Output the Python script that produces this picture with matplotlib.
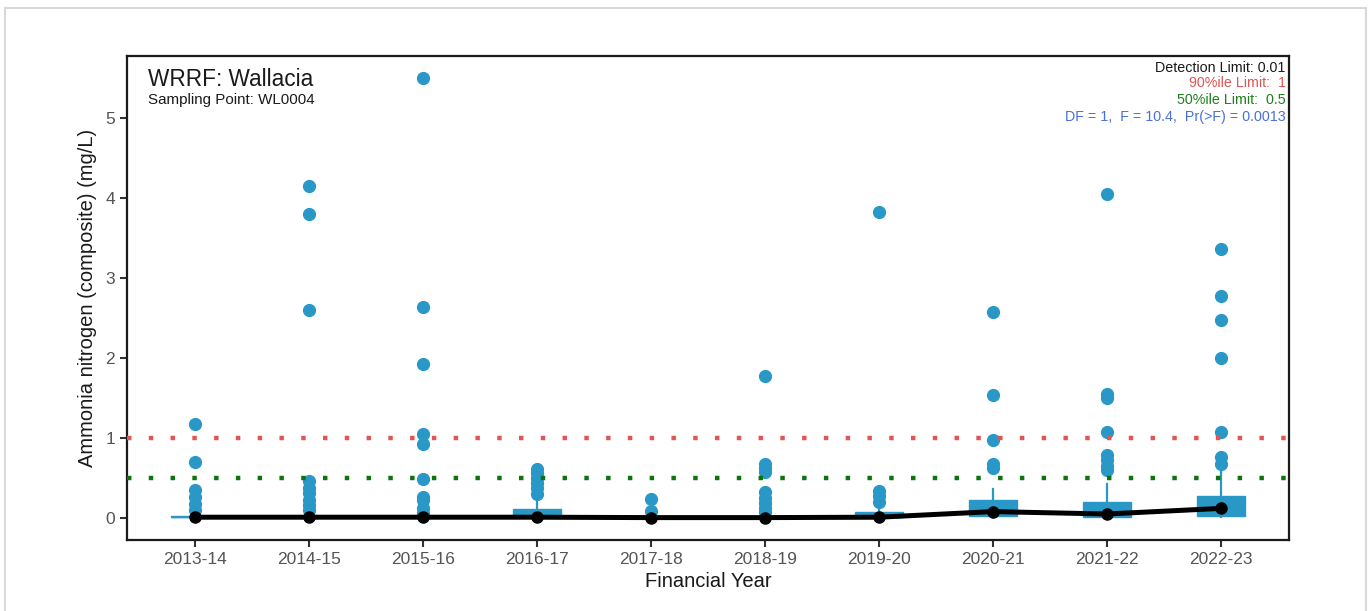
import matplotlib.pyplot as plt
from matplotlib.patches import Rectangle

plt.rcParams['font.family'] = ['Liberation Sans', 'DejaVu Sans']

# financial years on the x axis
years = ["2013-14", "2014-15", "2015-16", "2016-17", "2017-18",
         "2018-19", "2019-20", "2020-21", "2021-22", "2022-23"]

# box summaries per year (mg/L)
q1 = [0.01, 0.01, 0.01, 0.01, 0.005, 0.005, 0.01, 0.02, 0.015, 0.03]
med = [0.01, 0.01, 0.01, 0.01, 0.005, 0.005, 0.01, 0.08, 0.05, 0.12]
q3 = [0.02, 0.01, 0.01, 0.11, 0.01, 0.01, 0.08, 0.225, 0.2, 0.275]
whis_lo = [0.005, 0.005, 0.005, 0.005, 0.005, 0.005, 0.005, 0.01, 0.01, 0.01]
whis_hi = [0.02, 0.05, 0.05, 0.2, 0.03, 0.03, 0.12, 0.36, 0.42, 0.6]

# samples falling outside the whiskers
outliers = [
    [1.17, 0.70, 0.35, 0.26, 0.17, 0.10],
    [4.15, 3.80, 2.60, 0.46, 0.38, 0.31, 0.23, 0.16, 0.10],
    [5.50, 2.64, 1.92, 1.05, 0.93, 0.49, 0.26, 0.22, 0.12, 0.06],
    [0.61, 0.56, 0.50, 0.44, 0.37, 0.30],
    [0.24, 0.09],
    [1.78, 0.67, 0.62, 0.57, 0.33, 0.25, 0.19, 0.12, 0.08],
    [3.82, 0.34, 0.28, 0.20],
    [2.58, 1.54, 0.98, 0.67, 0.63],
    [4.05, 1.55, 1.50, 1.07, 0.79, 0.72, 0.65, 0.60],
    [3.36, 2.77, 2.47, 2.00, 1.08, 0.76, 0.67],
]

limit_90 = 1.0
limit_50 = 0.5
blue = "#2A98C6"

fig = plt.figure(figsize=(13.71, 6.11), dpi=100)
fig.patches.append(Rectangle((5 / 1371, -0.1), 1361 / 1371, 1.1 - 8 / 611,
                             transform=fig.transFigure, fill=False,
                             edgecolor="#d9d9d9", linewidth=1.5))
ax = fig.add_axes([0.0926, 0.1162, 0.8476, 0.7921])

pos = list(range(1, len(years) + 1))
stats = []
for i in range(len(years)):
    stats.append(dict(q1=q1[i], med=med[i], q3=q3[i], whislo=whis_lo[i],
                      whishi=whis_hi[i], fliers=outliers[i]))

ax.bxp(stats, positions=pos, widths=0.42, patch_artist=True, showcaps=False,
       boxprops=dict(facecolor=blue, edgecolor=blue, linewidth=1),
       whiskerprops=dict(color=blue, linewidth=1.6),
       medianprops=dict(color=blue, linewidth=1),
       flierprops=dict(marker="o", markerfacecolor=blue, markeredgecolor=blue,
                       markersize=8.5), zorder=2)

ax.axhline(limit_90, color="#E05555", linewidth=3.2, linestyle=(0, (1, 3.9)),
           dash_capstyle="butt", zorder=3)
ax.axhline(limit_50, color="#0B740B", linewidth=3.2, linestyle=(0, (1, 3.9)),
           dash_capstyle="butt", zorder=3)

# median trend across years
ax.plot(pos, med, color="black", linewidth=3.6, marker="o", markersize=8,
        zorder=4)

ax.set_xlim(0.4, 10.6)
ax.set_ylim(-0.275, 5.775)
ax.set_xticks(pos)
ax.set_xticklabels(years)
ax.set_yticks([0, 1, 2, 3, 4, 5])
ax.tick_params(axis="both", colors="#333333", labelcolor="#555555",
               labelsize=12.5, length=5, width=1.5)
for s in ax.spines.values():
    s.set_linewidth(1.6)
    s.set_color("#1a1a1a")

ax.set_xlabel("Financial Year", fontsize=14.5, color="#1a1a1a", labelpad=4)
ax.set_ylabel("Ammonia nitrogen (composite) (mg/L)", fontsize=14.5,
              color="#1a1a1a", labelpad=6)

ax.text(0.018, 0.951, "WRRF: Wallacia", transform=ax.transAxes, fontsize=16.3,
        color="#1a1a1a", va="center", ha="left")
ax.text(0.018, 0.909, "Sampling Point: WL0004", transform=ax.transAxes,
        fontsize=10.9, color="#1a1a1a", va="center", ha="left")

info = [("Detection Limit: 0.01", "#1a1a1a"),
        ("90%ile Limit:  1", "#E05555"),
        ("50%ile Limit:  0.5", "#1E7F1E"),
        ("DF = 1,  F = 10.4,  Pr(>F) = 0.0013", "#4A6FD8")]
info_y = [0.975, 0.944, 0.909, 0.874]
for (txt, col), y in zip(info, info_y):
    ax.text(0.997, y, txt, transform=ax.transAxes, fontsize=10.3,
            color=col, va="center", ha="right")

fig.savefig("out.png", dpi=100)
